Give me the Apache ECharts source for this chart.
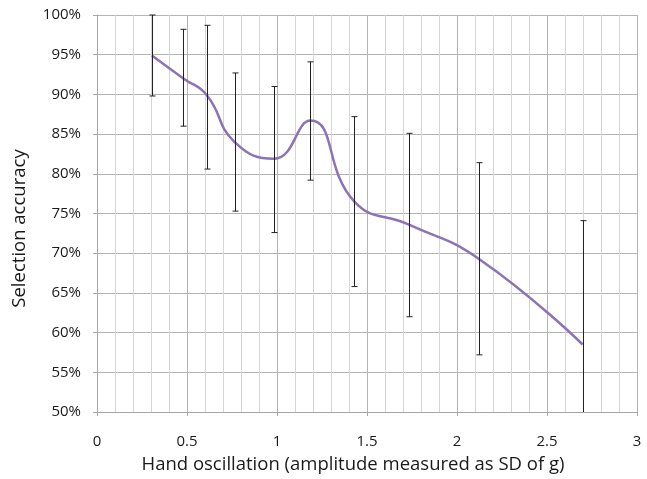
<!DOCTYPE html>
<html>
<head>
<meta charset="utf-8">
<script src="https://cdn.jsdelivr.net/npm/echarts@6/dist/echarts.min.js"></script>
<style>html,body{margin:0;padding:0;background:#fff}#c{width:647px;height:479px}</style>
</head>
<body>
<div id="c"></div>
<script>
const xValues = [0.305, 0.48, 0.61, 0.765, 0.983, 1.185, 1.43, 1.733, 2.124, 2.698];
const accuracy = [94.9, 92.0, 89.9, 84.0, 81.9, 86.7, 76.5, 73.6, 69.25, 58.5];
const errLow = [89.8, 86.0, 80.6, 75.3, 72.6, 79.2, 65.8, 62.0, 57.2, 42.9];
const errHigh = [100.0, 98.2, 98.7, 92.7, 91.0, 94.1, 87.2, 85.1, 81.4, 74.1];
const xTitle = 'Hand oscillation (amplitude measured as SD of g)';
const yTitle = 'Selection accuracy';

const font = '"Open Sans", sans-serif';
const chart = echarts.init(document.getElementById('c'), null, {renderer: 'canvas'});

const lineData = xValues.map((x, i) => [x, accuracy[i]]);
const errData = xValues.map((x, i) => [x, errLow[i], errHigh[i]]);

chart.setOption({
  animation: false,
  backgroundColor: '#fff',
  grid: {left: 97, right: 10, top: 15, bottom: 64, containLabel: false},
  xAxis: {
    type: 'value', min: 0, max: 3, interval: 0.5,
    name: xTitle, nameLocation: 'middle', nameGap: 43,
    nameTextStyle: {fontFamily: font, fontSize: 18.5, color: '#1a1a1a', padding: [0, 28, 0, 0]},
    axisLine: {show: true, onZero: false, lineStyle: {color: '#a6a6a6'}},
    axisTick: {show: true, inside: false, length: 4, lineStyle: {color: '#a6a6a6'}},
    axisLabel: {fontFamily: font, fontSize: 15, color: '#1a1a1a', margin: 22},
    splitLine: {show: true, lineStyle: {color: '#b4b4b4', width: 1}},
    minorTick: {show: false, splitNumber: 5},
    minorSplitLine: {show: true, lineStyle: {color: '#d6d6d6', width: 1}}
  },
  yAxis: {
    type: 'value', min: 50, max: 100, interval: 5,
    name: yTitle, nameLocation: 'middle', nameGap: 68, nameRotate: 90,
    nameTextStyle: {fontFamily: font, fontSize: 18.5, color: '#1a1a1a', padding: [0, 30, 0, 0]},
    axisLine: {show: true, lineStyle: {color: '#a6a6a6'}},
    axisTick: {show: true, inside: false, length: 4, lineStyle: {color: '#a6a6a6'}},
    axisLabel: {fontFamily: font, fontSize: 15, color: '#1a1a1a', margin: 16, formatter: '{value}%'},
    splitLine: {show: true, lineStyle: {color: '#b4b4b4', width: 1}}
  },
  series: [
    {
      type: 'line', data: lineData, smooth: 0.5, showSymbol: false,
      lineStyle: {color: '#8a74b6', width: 2.5}, z: 3
    },
    {
      type: 'custom', data: errData, z: 4,
      renderItem: function (params, api) {
        const cs = params.coordSys;
        const x = api.value(0);
        const top = api.coord([x, api.value(2)]);
        const bot = api.coord([x, api.value(1)]);
        const yMin = cs.y, yMax = cs.y + cs.height;
        const ty = Math.max(yMin, top[1]);
        const by = Math.min(yMax, bot[1]);
        const px = Math.round(top[0]) + 0.5;
        const style = {stroke: '#222', lineWidth: 1};
        const children = [
          {type: 'line', shape: {x1: px, y1: ty, x2: px, y2: by}, style: style}
        ];
        if (top[1] >= yMin - 0.5) children.push({type: 'line', shape: {x1: px - 3, y1: ty, x2: px + 3, y2: ty}, style: style});
        if (bot[1] <= yMax + 0.5) children.push({type: 'line', shape: {x1: px - 3, y1: by, x2: px + 3, y2: by}, style: style});
        return {type: 'group', children: children};
      }
    }
  ]
});
</script>
</body>
</html>
